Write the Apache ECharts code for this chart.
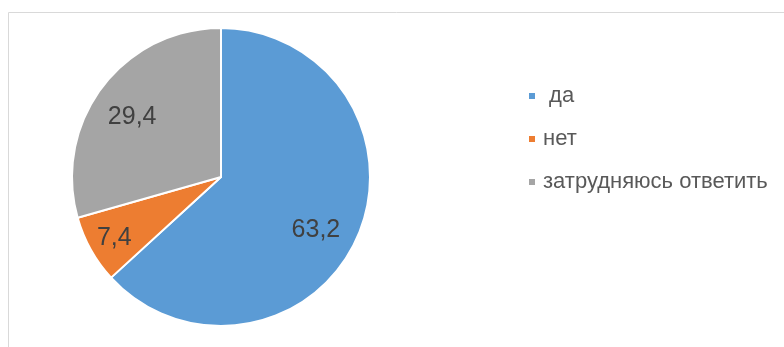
<!DOCTYPE html>
<html>
<head>
<meta charset="utf-8">
<script src="https://cdn.jsdelivr.net/npm/echarts@6/dist/echarts.min.js"></script>
<style>
  html, body { margin: 0; padding: 0; background: #fff; }
  #chart { width: 784px; height: 347px; }
</style>
</head>
<body>
<div id="chart"></div>
<script>
const categories = [" да", "нет", "затрудняюсь ответить"];
const values = [63.2, 7.4, 29.4];
const colors = ["#5b9bd5", "#ed7d31", "#a5a5a5"];
// nudges the value labels toward where the source placed them
const labelOffsets = [[24, 22], [-39, 23], [-27, -13]];

const chart = echarts.init(document.getElementById("chart"));

chart.setOption({
  animation: false,
  graphic: [{
    type: "rect",
    shape: { x: 8.5, y: 12.5, width: 800, height: 400 },
    style: { fill: "none", stroke: "#d9d9d9", lineWidth: 1 },
    silent: true
  }],
  legend: {
    orient: "vertical",
    left: 522,
    top: 79,
    icon: "rect",
    itemWidth: 8,
    itemHeight: 8,
    itemGap: 19,
    textStyle: { color: "#595959", fontSize: 22, lineHeight: 24, fontFamily: "Liberation Sans", padding: [0, 0, 0, 2] },
    data: categories
  },
  series: [{
    type: "pie",
    center: [221, 177],
    radius: [0, 149],
    startAngle: 90,
    clockwise: true,
    itemStyle: { borderColor: "#fff", borderWidth: 2 },
    label: {
      show: true,
      position: "inside",
      color: "#404040",
      fontSize: 25,
      fontFamily: "Liberation Sans",
      formatter: (p) => String(p.value).replace(".", ",")
    },
    labelLine: { show: false },
    emphasis: { disabled: true },
    data: categories.map((name, i) => ({
      name,
      value: values[i],
      itemStyle: { color: colors[i] },
      label: { offset: labelOffsets[i] }
    }))
  }]
});
</script>
</body>
</html>
